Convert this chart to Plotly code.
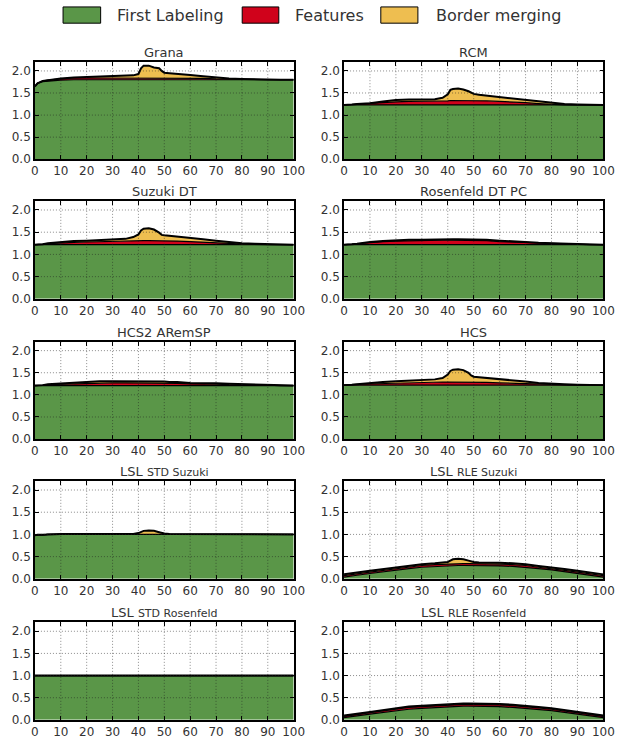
import plotly.graph_objects as go

# Density (%) on the x axis, shared by every panel
X = [0, 1, 3, 5, 10, 15, 20, 25, 30, 35, 38, 40, 41, 42, 44, 46, 48, 49, 50, 52,
     55, 60, 65, 70, 75, 80, 85, 90, 95, 100]

SERIES_NAMES = ["First Labeling", "Features", "Border merging"]
SERIES_COLORS = ["#5a9648", "#d0021b", "#eebe50"]

X_TICKS = [0, 10, 20, 30, 40, 50, 60, 70, 80, 90, 100]
Y_TICKS = [0.0, 0.5, 1.0, 1.5, 2.0]

# ---- Grana
GRANA_FIRST = [1.65, 1.72, 1.76, 1.77, 1.79, 1.80, 1.80, 1.80, 1.80, 1.80, 1.80, 1.80, 1.80, 1.80, 1.80,
               1.80, 1.80, 1.80, 1.80, 1.80, 1.80, 1.80, 1.80, 1.80, 1.80, 1.80, 1.80, 1.80, 1.80, 1.80]
GRANA_FEAT = [0.00, 0.00, 0.01, 0.02, 0.03, 0.04, 0.04, 0.04, 0.04, 0.04, 0.04, 0.04, 0.04, 0.04, 0.04,
              0.04, 0.04, 0.04, 0.04, 0.04, 0.04, 0.04, 0.03, 0.02, 0.02, 0.01, 0.01, 0.00, 0.00, 0.00]
GRANA_BORDER = [0.00, 0.00, 0.00, 0.00, 0.01, 0.01, 0.02, 0.03, 0.04, 0.05, 0.06, 0.09, 0.22, 0.28, 0.28,
                0.24, 0.22, 0.16, 0.12, 0.11, 0.09, 0.07, 0.05, 0.03, 0.01, 0.01, 0.00, 0.00, 0.00, 0.00]

# ---- RCM
RCM_FIRST = [1.23, 1.23, 1.23, 1.23, 1.23, 1.23, 1.23, 1.23, 1.23, 1.23, 1.23, 1.23, 1.23, 1.23, 1.23,
             1.23, 1.23, 1.23, 1.23, 1.23, 1.23, 1.23, 1.23, 1.23, 1.23, 1.23, 1.23, 1.23, 1.23, 1.23]
RCM_FEAT = [0.00, 0.00, 0.01, 0.02, 0.04, 0.06, 0.07, 0.08, 0.08, 0.08, 0.08, 0.09, 0.10, 0.10, 0.10,
            0.10, 0.10, 0.10, 0.10, 0.10, 0.09, 0.08, 0.07, 0.05, 0.03, 0.01, 0.00, 0.00, 0.00, 0.00]
RCM_BORDER = [0.00, 0.00, 0.00, 0.00, 0.00, 0.02, 0.04, 0.04, 0.04, 0.05, 0.08, 0.15, 0.24, 0.26, 0.27,
              0.25, 0.21, 0.18, 0.15, 0.13, 0.12, 0.10, 0.08, 0.07, 0.05, 0.03, 0.02, 0.01, 0.00, 0.00]

# ---- Suzuki DT
SUZUKI_DT_FIRST = [1.22, 1.22, 1.22, 1.22, 1.22, 1.22, 1.22, 1.22, 1.22, 1.22, 1.22, 1.22, 1.22, 1.22, 1.22,
                   1.22, 1.22, 1.22, 1.22, 1.22, 1.22, 1.22, 1.22, 1.22, 1.22, 1.22, 1.22, 1.22, 1.22, 1.22]
SUZUKI_DT_FEAT = [0.00, 0.00, 0.01, 0.02, 0.04, 0.05, 0.06, 0.07, 0.07, 0.08, 0.08, 0.09, 0.09, 0.09, 0.09,
                  0.09, 0.09, 0.09, 0.09, 0.09, 0.08, 0.07, 0.06, 0.05, 0.03, 0.01, 0.00, 0.00, 0.00, 0.00]
SUZUKI_DT_BORDER = [0.00, 0.00, 0.00, 0.01, 0.02, 0.03, 0.03, 0.03, 0.04, 0.05, 0.09, 0.14, 0.23, 0.27, 0.28,
                    0.25, 0.18, 0.13, 0.12, 0.11, 0.10, 0.08, 0.06, 0.04, 0.03, 0.02, 0.02, 0.01, 0.01, 0.00]

# ---- Rosenfeld DT PC
ROSENFELD_FIRST = [1.22, 1.22, 1.22, 1.22, 1.22, 1.22, 1.22, 1.22, 1.22, 1.22, 1.22, 1.22, 1.22, 1.22, 1.22,
                   1.22, 1.22, 1.22, 1.22, 1.22, 1.22, 1.22, 1.22, 1.22, 1.22, 1.22, 1.22, 1.22, 1.22, 1.22]
ROSENFELD_FEAT = [0.00, 0.00, 0.01, 0.02, 0.05, 0.07, 0.08, 0.09, 0.09, 0.10, 0.10, 0.10, 0.10, 0.10, 0.10,
                  0.10, 0.10, 0.10, 0.09, 0.09, 0.09, 0.07, 0.06, 0.05, 0.03, 0.02, 0.01, 0.01, 0.00, 0.00]
ROSENFELD_BORDER = [0.00, 0.00, 0.00, 0.00, 0.01, 0.01, 0.02, 0.02, 0.02, 0.02, 0.02, 0.02, 0.02, 0.02, 0.02,
                    0.02, 0.02, 0.02, 0.02, 0.02, 0.02, 0.02, 0.01, 0.01, 0.01, 0.01, 0.01, 0.00, 0.00, 0.00]

# ---- HCS2 ARemSP
HCS2_FIRST = [1.21, 1.21, 1.21, 1.21, 1.21, 1.21, 1.21, 1.21, 1.21, 1.21, 1.21, 1.21, 1.21, 1.21, 1.21,
              1.21, 1.21, 1.21, 1.21, 1.21, 1.21, 1.21, 1.21, 1.21, 1.21, 1.21, 1.21, 1.21, 1.21, 1.21]
HCS2_FEAT = [0.00, 0.00, 0.01, 0.02, 0.03, 0.04, 0.05, 0.06, 0.06, 0.06, 0.06, 0.06, 0.06, 0.06, 0.06,
             0.06, 0.06, 0.06, 0.06, 0.05, 0.05, 0.04, 0.04, 0.03, 0.02, 0.02, 0.01, 0.01, 0.00, 0.00]
HCS2_BORDER = [0.00, 0.00, 0.00, 0.01, 0.02, 0.03, 0.04, 0.04, 0.04, 0.04, 0.04, 0.04, 0.04, 0.04, 0.04,
               0.03, 0.03, 0.03, 0.03, 0.03, 0.03, 0.02, 0.02, 0.02, 0.02, 0.01, 0.01, 0.01, 0.01, 0.00]

# ---- HCS
HCS_FIRST = [1.22, 1.22, 1.22, 1.22, 1.22, 1.22, 1.22, 1.22, 1.22, 1.22, 1.22, 1.22, 1.22, 1.22, 1.22,
             1.22, 1.22, 1.22, 1.22, 1.22, 1.22, 1.22, 1.22, 1.22, 1.22, 1.22, 1.22, 1.22, 1.22, 1.22]
HCS_FEAT = [0.00, 0.00, 0.01, 0.02, 0.03, 0.04, 0.05, 0.06, 0.06, 0.07, 0.07, 0.07, 0.07, 0.07, 0.07,
            0.07, 0.07, 0.07, 0.07, 0.07, 0.06, 0.05, 0.04, 0.03, 0.02, 0.01, 0.01, 0.00, 0.00, 0.00]
HCS_BORDER = [0.00, 0.00, 0.00, 0.00, 0.02, 0.03, 0.04, 0.04, 0.05, 0.06, 0.09, 0.17, 0.25, 0.28, 0.29,
              0.27, 0.21, 0.15, 0.12, 0.11, 0.11, 0.09, 0.07, 0.05, 0.03, 0.02, 0.01, 0.01, 0.00, 0.00]

# ---- LSL STD Suzuki
LSL_STD_SUZUKI_FIRST = [0.98, 0.99, 0.99, 1.00, 1.00, 1.00, 1.00, 1.00, 1.00, 1.00, 1.00, 1.00, 1.00, 1.00, 1.00,
                        1.00, 1.00, 1.00, 1.00, 1.00, 1.00, 1.00, 1.00, 1.00, 1.00, 1.00, 1.00, 1.00, 1.00, 1.00]
LSL_STD_SUZUKI_FEAT = [0.00, 0.00, 0.00, 0.00, 0.00, 0.00, 0.00, 0.00, 0.00, 0.00, 0.00, 0.01, 0.01, 0.01, 0.01,
                       0.01, 0.01, 0.01, 0.01, 0.00, 0.00, 0.00, 0.00, 0.00, 0.00, 0.00, 0.00, 0.00, 0.00, 0.00]
LSL_STD_SUZUKI_BORDER = [0.00, 0.00, 0.00, 0.00, 0.01, 0.01, 0.01, 0.01, 0.01, 0.01, 0.01, 0.02, 0.05, 0.07, 0.08,
                         0.07, 0.04, 0.02, 0.01, 0.01, 0.01, 0.01, 0.01, 0.00, 0.00, 0.00, 0.00, 0.00, 0.00, 0.00]

# ---- LSL RLE Suzuki
LSL_RLE_SUZUKI_FIRST = [0.04, 0.05, 0.06, 0.08, 0.12, 0.16, 0.20, 0.23, 0.26, 0.28, 0.29, 0.29, 0.29, 0.30, 0.30,
                        0.30, 0.30, 0.30, 0.30, 0.30, 0.30, 0.29, 0.28, 0.26, 0.23, 0.20, 0.16, 0.12, 0.08, 0.04]
LSL_RLE_SUZUKI_FEAT = [0.03, 0.03, 0.03, 0.03, 0.03, 0.03, 0.03, 0.04, 0.04, 0.04, 0.04, 0.04, 0.04, 0.04, 0.04,
                       0.04, 0.04, 0.04, 0.04, 0.04, 0.04, 0.04, 0.04, 0.04, 0.03, 0.03, 0.03, 0.03, 0.03, 0.03]
LSL_RLE_SUZUKI_BORDER = [0.03, 0.03, 0.03, 0.03, 0.03, 0.03, 0.03, 0.03, 0.03, 0.03, 0.04, 0.05, 0.08, 0.10, 0.11,
                         0.10, 0.07, 0.05, 0.04, 0.03, 0.03, 0.03, 0.03, 0.03, 0.03, 0.03, 0.03, 0.03, 0.03, 0.03]

# ---- LSL STD Rosenfeld
LSL_STD_ROSENFELD_FIRST = [1.00, 1.00, 1.00, 1.00, 1.00, 1.00, 1.00, 1.00, 1.00, 1.00, 1.00, 1.00, 1.00, 1.00, 1.00,
                           1.00, 1.00, 1.00, 1.00, 1.00, 1.00, 1.00, 1.00, 1.00, 1.00, 1.00, 1.00, 1.00, 1.00, 1.00]
LSL_STD_ROSENFELD_FEAT = [0.00, 0.00, 0.00, 0.00, 0.00, 0.00, 0.00, 0.00, 0.00, 0.00, 0.00, 0.00, 0.00, 0.00, 0.00,
                          0.00, 0.00, 0.00, 0.00, 0.00, 0.00, 0.00, 0.00, 0.00, 0.00, 0.00, 0.00, 0.00, 0.00, 0.00]
LSL_STD_ROSENFELD_BORDER = [0.00, 0.00, 0.00, 0.00, 0.00, 0.01, 0.01, 0.01, 0.01, 0.01, 0.00, 0.00, 0.00, 0.00, 0.00,
                            0.00, 0.00, 0.00, 0.00, 0.00, 0.00, 0.00, 0.00, 0.00, 0.00, 0.00, 0.00, 0.00, 0.00, 0.00]

# ---- LSL RLE Rosenfeld
LSL_RLE_ROSENFELD_FIRST = [0.05, 0.06, 0.07, 0.09, 0.13, 0.17, 0.21, 0.24, 0.26, 0.28, 0.29, 0.30, 0.30, 0.30, 0.31,
                           0.31, 0.31, 0.31, 0.31, 0.31, 0.30, 0.30, 0.28, 0.26, 0.24, 0.21, 0.17, 0.13, 0.09, 0.05]
LSL_RLE_ROSENFELD_FEAT = [0.03, 0.03, 0.03, 0.03, 0.03, 0.03, 0.03, 0.04, 0.04, 0.04, 0.04, 0.04, 0.04, 0.04, 0.04,
                          0.04, 0.04, 0.04, 0.04, 0.04, 0.04, 0.04, 0.04, 0.04, 0.03, 0.03, 0.03, 0.03, 0.03, 0.03]
LSL_RLE_ROSENFELD_BORDER = [0.02, 0.02, 0.02, 0.02, 0.02, 0.02, 0.02, 0.02, 0.02, 0.02, 0.02, 0.02, 0.02, 0.02, 0.02,
                            0.02, 0.02, 0.02, 0.02, 0.02, 0.02, 0.02, 0.02, 0.02, 0.02, 0.02, 0.02, 0.02, 0.02, 0.02]

TITLES = [
    "Grana", "RCM",
    "Suzuki DT", "Rosenfeld DT PC",
    "HCS2 ARemSP", "HCS",
    "LSL <span style='font-size:11px'>STD Suzuki</span>",
    "LSL <span style='font-size:11px'>RLE Suzuki</span>",
    "LSL <span style='font-size:11px'>STD Rosenfeld</span>",
    "LSL <span style='font-size:11px'>RLE Rosenfeld</span>",
]

PANELS = [
    (GRANA_FIRST, GRANA_FEAT, GRANA_BORDER),
    (RCM_FIRST, RCM_FEAT, RCM_BORDER),
    (SUZUKI_DT_FIRST, SUZUKI_DT_FEAT, SUZUKI_DT_BORDER),
    (ROSENFELD_FIRST, ROSENFELD_FEAT, ROSENFELD_BORDER),
    (HCS2_FIRST, HCS2_FEAT, HCS2_BORDER),
    (HCS_FIRST, HCS_FEAT, HCS_BORDER),
    (LSL_STD_SUZUKI_FIRST, LSL_STD_SUZUKI_FEAT, LSL_STD_SUZUKI_BORDER),
    (LSL_RLE_SUZUKI_FIRST, LSL_RLE_SUZUKI_FEAT, LSL_RLE_SUZUKI_BORDER),
    (LSL_STD_ROSENFELD_FIRST, LSL_STD_ROSENFELD_FEAT, LSL_STD_ROSENFELD_BORDER),
    (LSL_RLE_ROSENFELD_FIRST, LSL_RLE_ROSENFELD_FEAT, LSL_RLE_ROSENFELD_BORDER),
]

W, H = 630, 742
FONT = "DejaVu Sans, Liberation Sans, sans-serif"
TEXT_COLOR = "#333333"

# Panel placement (paper fractions): two columns, five rows
COL_X = [(0.0503, 0.4710), (0.5529, 0.9746)]
ROW_Y = [(0.7834, 0.9155), (0.5934, 0.7264), (0.4026, 0.5350), (0.2125, 0.3454), (0.0206, 0.1532)]

fig = go.Figure()
layout = {}
shapes = []
annotations = []

for i, series in enumerate(PANELS):
    n = i + 1
    xr = "x" if n == 1 else f"x{n}"
    yr = "y" if n == 1 else f"y{n}"
    row, col = divmod(i, 2)
    xd, yd = COL_X[col], ROW_Y[row]

    for k, vals in enumerate(series):
        fig.add_trace(go.Scatter(
            x=X, y=vals, name=SERIES_NAMES[k], mode="lines",
            stackgroup=f"stack{n}", fillcolor=SERIES_COLORS[k],
            line=dict(color="black", width=2.0 if k == 2 else 1.2),
            xaxis=xr, yaxis=yr, showlegend=False, hoverinfo="skip",
        ))

    axis_common = dict(
        showgrid=False, zeroline=False, showline=True, linecolor="black",
        linewidth=1.5, mirror="allticks", ticks="inside", ticklen=4,
        tickcolor="black", tickwidth=1,
        tickfont=dict(family=FONT, size=12, color=TEXT_COLOR),
        fixedrange=True,
    )
    layout["xaxis" if n == 1 else f"xaxis{n}"] = dict(
        axis_common, domain=list(xd), range=[0, 100], tickvals=X_TICKS,
        anchor=yr,
    )
    layout["yaxis" if n == 1 else f"yaxis{n}"] = dict(
        axis_common, domain=list(yd), range=[0, 2.2], tickvals=Y_TICKS,
        tickformat=".1f", anchor=xr,
    )

    # fine dotted grid drawn over the filled areas
    grid_line = dict(color="rgba(30,30,30,0.5)", width=1, dash="1px,2px")
    for gx in X_TICKS[1:-1]:
        shapes.append(dict(type="line", xref=xr, yref=f"{yr} domain",
                           x0=gx, x1=gx, y0=0, y1=1, line=grid_line, layer="above"))
    for gy in Y_TICKS[1:]:
        shapes.append(dict(type="line", xref=f"{xr} domain", yref=yr,
                           x0=0, x1=1, y0=gy, y1=gy, line=grid_line, layer="above"))

    annotations.append(dict(
        text=TITLES[i], xref="paper", yref="paper",
        x=(xd[0] + xd[1]) / 2, y=yd[1], yshift=9.5,
        xanchor="center", yanchor="middle", showarrow=False,
        font=dict(family=FONT, size=13, color=TEXT_COLOR),
    ))

# Legend drawn as boxes with labels along the top
legend_boxes = [(60.5, 99.0), (244.0, 281.5), (386.0, 424.0)]
legend_text_x = [114.0, 296.0, 440.0]
for k, name in enumerate(SERIES_NAMES):
    bx0, bx1 = legend_boxes[k]
    shapes.append(dict(type="rect", xref="paper", yref="paper",
                       x0=bx0 / W, x1=bx1 / W, y0=1 - 23.4 / H, y1=1 - 7.0 / H,
                       fillcolor=SERIES_COLORS[k], line=dict(color="black", width=1)))
    annotations.append(dict(
        text=name, xref="paper", yref="paper", x=legend_text_x[k] / W, y=1 - 15.2 / H,
        xanchor="left", yanchor="middle", showarrow=False,
        font=dict(family=FONT, size=16, color=TEXT_COLOR),
    ))

fig.update_layout(
    **layout,
    width=W, height=H,
    margin=dict(l=0, r=0, t=0, b=0),
    paper_bgcolor="white", plot_bgcolor="white",
    shapes=shapes, annotations=annotations,
    showlegend=False,
    font=dict(family=FONT, color=TEXT_COLOR),
)

fig.write_html("out.html")
